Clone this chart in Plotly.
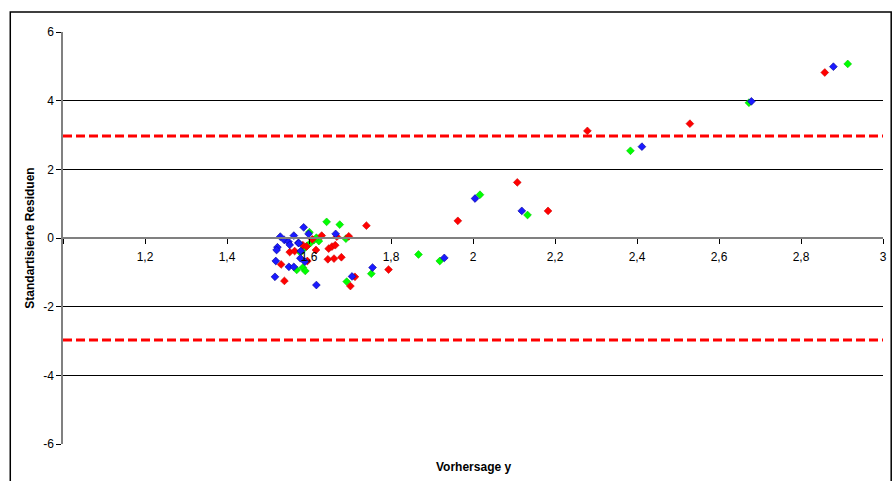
import plotly.graph_objects as go

# ---- data ----
blue_x = [2.879, 2.679, 2.412, 2.005, 2.119, 1.930, 1.755, 1.705, 1.665, 1.587,
          1.599, 1.530, 1.540, 1.550, 1.563, 1.553, 1.574, 1.523, 1.521, 1.580,
          1.579, 1.590, 1.519, 1.551, 1.563, 1.517, 1.618, 1.575]
blue_y = [4.99, 3.98, 2.66, 1.15, 0.79, -0.58, -0.86, -1.12, 0.12, 0.31,
          0.12, 0.04, -0.06, -0.11, 0.07, -0.20, -0.14, -0.27, -0.35, -0.38,
          -0.59, -0.69, -0.67, -0.84, -0.84, -1.13, -1.37, -0.15]

red_x = [2.858, 2.529, 2.279, 2.183, 2.108, 1.963, 1.740, 1.697, 1.679, 1.794,
         1.712, 1.701, 1.631, 1.668, 1.648, 1.656, 1.664, 1.646, 1.661, 1.608,
         1.553, 1.565, 1.585, 1.594, 1.617, 1.596, 1.532, 1.540]
red_y = [4.82, 3.33, 3.12, 0.79, 1.62, 0.50, 0.36, 0.05, -0.56, -0.92,
         -1.13, -1.40, 0.07, 0.04, -0.31, -0.25, -0.21, -0.62, -0.60, -0.04,
         -0.41, -0.38, -0.21, -0.25, -0.35, -0.67, -0.77, -1.25]

green_x = [2.914, 2.673, 2.384, 2.017, 2.133, 1.867, 1.919, 1.752, 1.692, 1.675,
           1.643, 1.690, 1.624, 1.601, 1.579, 1.587, 1.595, 1.604, 1.612, 1.618,
           1.570, 1.585, 1.591]
green_y = [5.07, 3.94, 2.54, 1.26, 0.67, -0.48, -0.67, -1.04, -1.27, 0.39,
           0.47, -0.02, -0.09, 0.17, -0.42, -0.32, -0.23, -0.14, -0.06, 0.01,
           -0.93, -0.86, -0.96]

limits = [2.97, -2.97]

x_tickvals = [1.0, 1.2, 1.4, 1.6, 1.8, 2.0, 2.2, 2.4, 2.6, 2.8, 3.0]
x_ticktext = ["", "1,2", "1,4", "1,6", "1,8", "2", "2,2", "2,4", "2,6", "2,8", "3"]
y_tickvals = [-6, -4, -2, 0, 2, 4, 6]
y_ticktext = ["-6", "-4", "-2", "0", "2", "4", "6"]

FONT = "Liberation Sans, Arial, sans-serif"

fig = go.Figure()

for xs, ys, fill, edge in [
    (green_x, green_y, "#00FF00", "#00C800"),
    (red_x, red_y, "#FF0000", "#D00000"),
    (blue_x, blue_y, "#1A1AFF", "#000090"),
]:
    fig.add_trace(go.Scatter(
        x=xs, y=ys, mode="markers",
        marker=dict(symbol="diamond", size=6, color=fill,
                    line=dict(color=edge, width=0.6)),
        showlegend=False, hoverinfo="x+y",
    ))

for lim in limits:
    fig.add_shape(type="line", xref="paper", x0=0, x1=1, yref="y", y0=lim, y1=lim,
                  line=dict(color="#FF0000", width=3, dash="9px,4px"), layer="above")

# outer chart border
fig.add_shape(type="rect", xref="paper", yref="paper",
              x0=-0.0643, x1=1.01, y0=-0.12, y1=1.0485,
              line=dict(color="#000000", width=1.5), fillcolor="rgba(0,0,0,0)",
              layer="below")

fig.update_layout(
    width=893, height=481,
    margin=dict(l=63, r=6, t=32, b=37),
    paper_bgcolor="white", plot_bgcolor="white",
    separators=",.",
    font=dict(family=FONT, size=12, color="#000000"),
    xaxis=dict(
        range=[1, 3], tickvals=x_tickvals, ticktext=x_ticktext,
        anchor="free", position=0.5,
        showgrid=False, zeroline=False,
        showline=True, linecolor="#808080", linewidth=1.5,
        ticks="outside", ticklen=5, tickcolor="#000000", tickwidth=1,
        ticklabelstandoff=3,
        tickfont=dict(family=FONT, size=12, color="#000000"),
    ),
    yaxis=dict(
        range=[-6, 6], tickvals=y_tickvals, ticktext=y_ticktext,
        showgrid=True, gridcolor="#000000", gridwidth=1,
        zeroline=False,
        showline=True, linecolor="#808080", linewidth=1.5,
        ticks="outside", ticklen=5, tickcolor="#000000", tickwidth=1,
        tickfont=dict(family=FONT, size=12, color="#000000"),
        title=dict(text="<b>Standartisierte Residuen</b>",
                   font=dict(family=FONT, size=12, color="#000000"), standoff=6),
    ),
    annotations=[dict(
        text="<b>Vorhersage y</b>", xref="paper", yref="paper",
        x=0.5, y=-0.055, xanchor="center", yanchor="middle", showarrow=False,
        font=dict(family=FONT, size=12, color="#000000"),
    )],
)

fig.write_html("out.html",
               config={"displayModeBar": False},
               post_script="document.body.style.margin='0';document.body.style.overflow='hidden';")
